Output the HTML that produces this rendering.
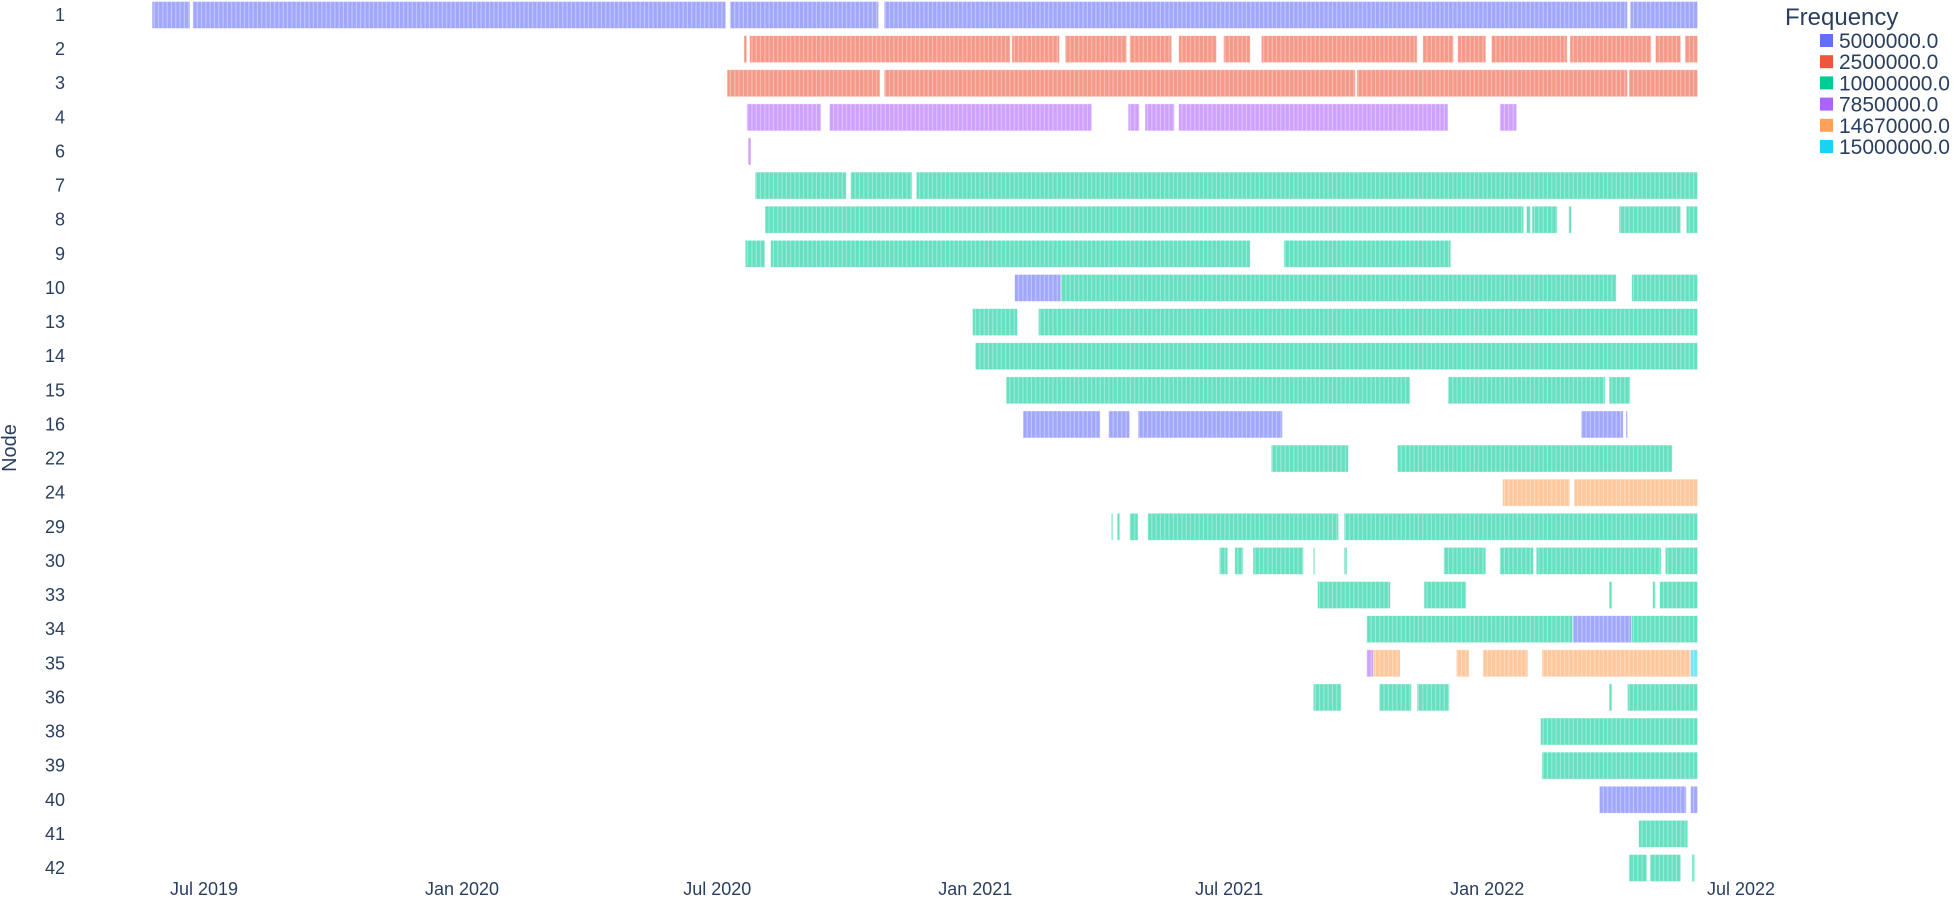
<!DOCTYPE html>
<html><head><meta charset="utf-8"><style>
body{margin:0;background:#fff;}
svg{display:block;font-family:"Liberation Sans",sans-serif;}
</style></head><body>
<svg id="chart" width="1954" height="901" xmlns="http://www.w3.org/2000/svg">
<defs>
<pattern id="stripes" patternUnits="userSpaceOnUse" width="4.3" height="10">
<rect x="3.2" y="0" width="1.1" height="10" fill="#fff" fill-opacity="0.35"/>
</pattern>
</defs>
<g id="ticks-y"></g>
<g id="ticks-x"></g>
<g id="bars"></g>
<text x="0" y="0" transform="translate(16,448) rotate(-90)" text-anchor="middle" font-size="20" fill="#2a3f5f">Node</text>
<g id="legend">
<text x="1785" y="25" font-size="24" fill="#2a3f5f">Frequency</text>
</g>
</svg>
<script>
const nodes = ["1","2","3","4","6","7","8","9","10","13","14","15","16","22","24","29","30","33","34","35","36","38","39","40","41","42"];
const freqs = ["5000000.0","2500000.0","10000000.0","7850000.0","14670000.0","15000000.0"];
const freqColors = ["#636efa","#EF553B","#00cc96","#ab63fa","#FFA15A","#19d3f3"];
const xTickDates = ["2019-07-01","2020-01-01","2020-07-01","2021-01-01","2021-07-01","2022-01-01","2022-07-01"];
const xTickLabels = ["Jul 2019","Jan 2020","Jul 2020","Jan 2021","Jul 2021","Jan 2022","Jul 2022"];
// [node, freqIndex, start, end]
const segments = [
["1",0,"2019-05-25","2019-06-21"],["1",0,"2019-06-23","2020-07-07"],["1",0,"2020-07-10","2020-10-24"],["1",0,"2020-10-28","2022-04-11"],["1",0,"2022-04-13","2022-05-31"],
["2",1,"2020-07-20","2020-07-22"],["2",1,"2020-07-24","2021-01-26"],["2",1,"2021-01-27","2021-03-02"],["2",1,"2021-03-06","2021-04-19"],["2",1,"2021-04-21","2021-05-21"],["2",1,"2021-05-26","2021-06-22"],["2",1,"2021-06-27","2021-07-16"],["2",1,"2021-07-24","2021-11-12"],["2",1,"2021-11-16","2021-12-08"],["2",1,"2021-12-11","2021-12-31"],["2",1,"2022-01-04","2022-02-27"],["2",1,"2022-03-01","2022-04-28"],["2",1,"2022-05-01","2022-05-19"],["2",1,"2022-05-22","2022-05-31"],
["3",1,"2020-07-08","2020-10-25"],["3",1,"2020-10-28","2021-09-29"],["3",1,"2021-09-30","2022-04-11"],["3",1,"2022-04-12","2022-05-31"],
["4",3,"2020-07-22","2020-09-13"],["4",3,"2020-09-19","2021-03-25"],["4",3,"2021-04-20","2021-04-28"],["4",3,"2021-05-02","2021-05-23"],["4",3,"2021-05-26","2021-12-04"],["4",3,"2022-01-10","2022-01-22"],
["6",3,"2020-07-23","2020-07-25"],
["7",2,"2020-07-28","2020-10-01"],["7",2,"2020-10-04","2020-11-17"],["7",2,"2020-11-20","2022-05-31"],
["8",2,"2020-08-04","2022-01-27"],["8",2,"2022-01-29","2022-02-01"],["8",2,"2022-02-02","2022-02-20"],["8",2,"2022-02-28","2022-03-02"],["8",2,"2022-04-05","2022-05-19"],["8",2,"2022-05-23","2022-05-31"],
["9",2,"2020-07-21","2020-08-04"],["9",2,"2020-08-08","2021-07-16"],["9",2,"2021-08-09","2021-12-06"],
["10",0,"2021-01-29","2021-03-03"],["10",2,"2021-03-03","2022-04-03"],["10",2,"2022-04-14","2022-05-31"],
["13",2,"2020-12-30","2021-01-31"],["13",2,"2021-02-15","2022-05-31"],
["14",2,"2021-01-01","2022-05-31"],
["15",2,"2021-01-23","2021-11-07"],["15",2,"2021-12-04","2022-03-26"],["15",2,"2022-03-29","2022-04-13"],
["16",0,"2021-02-04","2021-03-31"],["16",0,"2021-04-06","2021-04-21"],["16",0,"2021-04-27","2021-08-08"],["16",0,"2022-03-09","2022-04-08"],["16",0,"2022-04-10","2022-04-11"],
["22",2,"2021-07-31","2021-09-24"],["22",2,"2021-10-29","2022-05-13"],
["24",4,"2022-01-12","2022-03-01"],["24",4,"2022-03-04","2022-05-31"],
["29",2,"2021-04-08","2021-04-09"],["29",2,"2021-04-12","2021-04-14"],["29",2,"2021-04-21","2021-04-27"],["29",2,"2021-05-04","2021-09-17"],["29",2,"2021-09-21","2022-05-31"],
["30",2,"2021-06-24","2021-06-30"],["30",2,"2021-07-05","2021-07-11"],["30",2,"2021-07-18","2021-08-23"],["30",2,"2021-08-30","2021-08-31"],["30",2,"2021-09-21","2021-09-23"],["30",2,"2021-12-01","2021-12-31"],["30",2,"2022-01-10","2022-02-03"],["30",2,"2022-02-05","2022-05-05"],["30",2,"2022-05-08","2022-05-31"],
["33",2,"2021-09-02","2021-10-24"],["33",2,"2021-11-17","2021-12-17"],["33",2,"2022-03-29","2022-03-31"],["33",2,"2022-04-29","2022-05-01"],["33",2,"2022-05-04","2022-05-31"],
["34",2,"2021-10-07","2022-03-03"],["34",0,"2022-03-03","2022-04-14"],["34",2,"2022-04-14","2022-05-31"],
["35",3,"2021-10-07","2021-10-12"],["35",4,"2021-10-12","2021-10-31"],["35",4,"2021-12-10","2021-12-19"],["35",4,"2021-12-29","2022-01-30"],["35",4,"2022-02-09","2022-05-26"],["35",5,"2022-05-26","2022-05-31"],
["36",2,"2021-08-30","2021-09-19"],["36",2,"2021-10-16","2021-11-08"],["36",2,"2021-11-12","2021-12-05"],["36",2,"2022-03-29","2022-03-31"],["36",2,"2022-04-11","2022-05-31"],
["38",2,"2022-02-08","2022-05-31"],
["39",2,"2022-02-09","2022-05-31"],
["40",0,"2022-03-22","2022-05-23"],["40",0,"2022-05-26","2022-05-31"],
["41",2,"2022-04-19","2022-05-24"],
["42",2,"2022-04-12","2022-04-25"],["42",2,"2022-04-27","2022-05-19"],["42",2,"2022-05-27","2022-05-29"]
];
const NS="http://www.w3.org/2000/svg";
const t0=Date.parse("2019-07-01");
function xScale(d){return 204+1.4024*(Date.parse(d)-t0)/86400000;}
function yScale(n){return 15+34.12*nodes.indexOf(n);}
function mk(tag,attrs,parent){const e=document.createElementNS(NS,tag);for(const k in attrs)e.setAttribute(k,attrs[k]);parent.appendChild(e);return e;}
const gy=document.getElementById('ticks-y'),gx=document.getElementById('ticks-x'),gb=document.getElementById('bars'),gl=document.getElementById('legend');
nodes.forEach(n=>{
  const t=mk('text',{x:65,y:yScale(n)+6,'text-anchor':'end','font-size':18,fill:'#2a3f5f'},gy);
  
  
  t.textContent=n;
});
xTickDates.forEach((d,i)=>{
  const t=mk('text',{x:xScale(d),y:895,'text-anchor':'middle','font-size':18,fill:'#2a3f5f'},gx);
  
  
  t.textContent=xTickLabels[i];
});
segments.forEach(s=>{
  const x1=xScale(s[2]),x2=xScale(s[3]),yc=yScale(s[0]);
  const w=Math.max(x2-x1,1.5);
  const r=mk('rect',{x:x1,y:yc-13.5,width:w,height:27,fill:freqColors[s[1]],'fill-opacity':0.6,stroke:'#fff','stroke-opacity':0.5,'stroke-width':0.8},gb);
  
  
  const o=mk('rect',{x:x1,y:yc-13.5,width:w,height:27,fill:'url(#stripes)'},gb);
  
  
});
freqs.forEach((f,i)=>{
  const y=41+21.2*i;
  const m=mk('rect',{x:1820,y:y-7,width:13,height:13,fill:freqColors[i]},gl);
  
  
  const t=mk('text',{x:1839,y:y+7,'font-size':21,fill:'#2a3f5f'},gl);
  
  
  t.textContent=f;
});
</script>
</body></html>
